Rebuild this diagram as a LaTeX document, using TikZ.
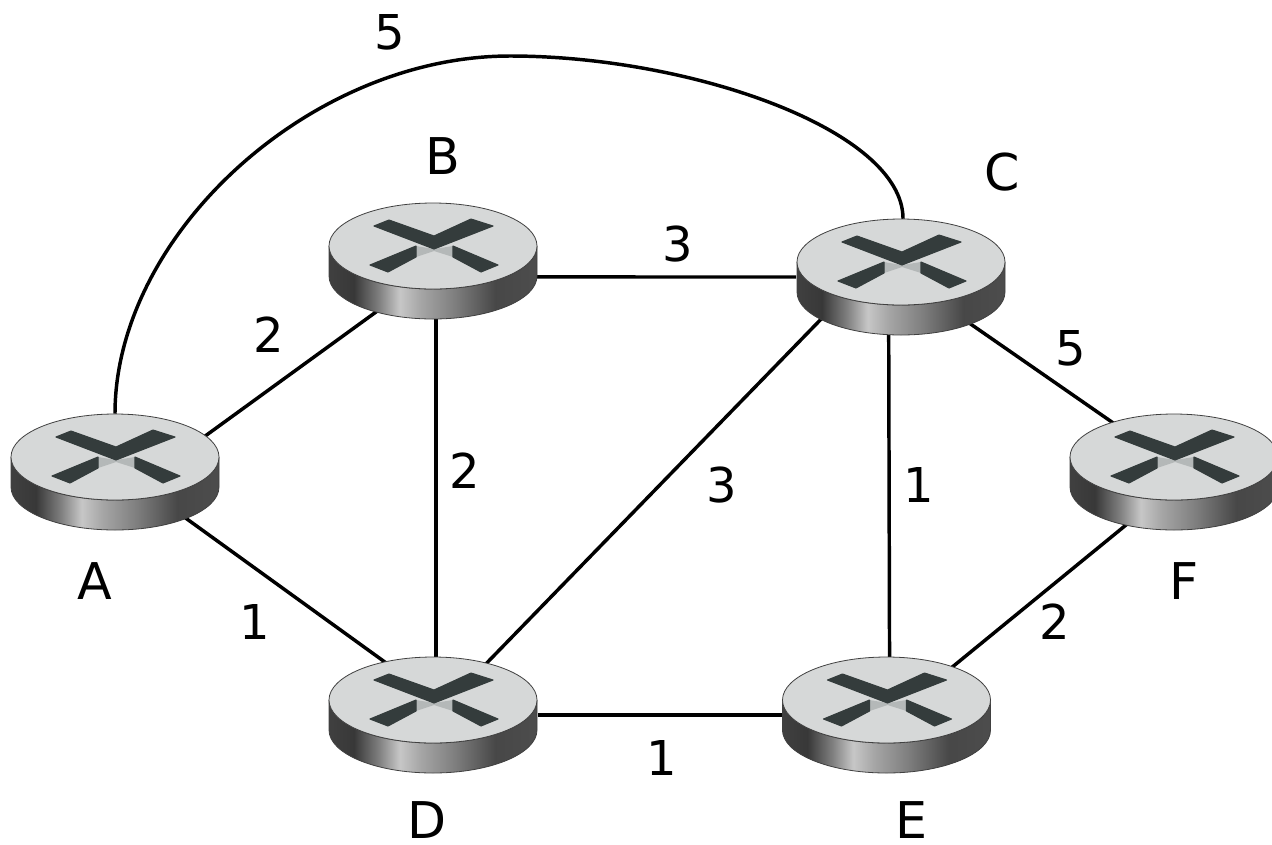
\documentclass[tikz,border=0pt]{standalone}
\usepackage{fontspec}
\setmainfont{DejaVu Sans}
\usetikzlibrary{shapes.geometric}

\definecolor{crossdark}{HTML}{343C3C}
\definecolor{crossmid}{HTML}{B4B8B8}
\definecolor{toplight}{HTML}{D6D8D8}
\pgfdeclarehorizontalshading{routerside}{100bp}{
	color(0bp)=(black!75); color(25bp)=(black!75); color(31bp)=(black!78); color(37bp)=(black!50);
	color(42bp)=(black!22); color(47bp)=(black!35); color(55bp)=(black!50); color(65bp)=(black!72);
	color(75bp)=(black!70); color(100bp)=(black!70)}

\begin{document}
\begin{tikzpicture}[
			x=0.75pt, y=-0.75pt,
			routernode/.style={ellipse, minimum width=156.75pt, minimum height=87pt, inner sep=0pt},
			textlabel/.style={font=\fontsize{38}{38}\selectfont, text=black, inner sep=0pt},
			weightlabel/.style={font=\fontsize{36}{36}\selectfont, text=black, inner sep=0pt},
			link/.style={line width=2.6pt, black},
			routericon/.pic={
				\path[shade, shading=routerside, draw=black!75, line width=0.6pt]
					(-104,-15) -- (-104,15) arc[start angle=180, end angle=360, x radius=104, y radius=-43]
					-- (104,-15) arc[start angle=0, end angle=180, x radius=104, y radius=43] -- cycle;
				\draw[fill=toplight, draw=black!75, line width=0.6pt] (0,-15) ellipse[x radius=104, y radius=43];
				\fill[crossmid] (-17,-15) -- (1,-12) -- (20,-15) -- (20,-4) -- (1,-10) -- (-17,-4) -- cycle;
				\filldraw[crossdark, line width=0.8pt, line join=round] (-59,-35) -- (-44,-41) -- (1,-25) -- (38,-42) -- (60,-35) -- (1,-12) -- cycle;
				\filldraw[crossdark, line width=0.8pt, line join=round] (-17,-15) -- (-63,4) -- (-45,11) -- (-17,-4) -- cycle;
				\filldraw[crossdark, line width=0.8pt, line join=round] (20,-15) -- (65,4) -- (48,11) -- (20,-4) -- cycle;
			},
		]
		\useasboundingbox (0,0) rectangle (1272,844);

			%Nodes
			\node[routernode] (A) at (115,472) {};
			\node[routernode] (B) at (433,261) {};
			\node[routernode] (C) at (901,277) {};
			\node[routernode] (D) at (433,715) {};
			\node[routernode] (E) at (886.5,715) {};
			\node[routernode] (F) at (1174,472) {};
			\coordinate (top) at (510,56);

			%Lines
			\draw[link] (A.21) -- (B.222);
			\draw[link] (A.-33) -- (D.132);
			\draw[link] (B.-87) -- (D.87);
			\draw[link] (B.-9) -- (C.west);
			\draw[link] (C.207.5) -- (D.44);
			\draw[link] (D.east) -- (E.west);
			\draw[link] (C.258) -- (E.87.5);
			\draw[link] (C.-34) -- (F.141.5);
			\draw[link] (E.36) -- (F.228);
			\draw[link] (A.north) .. controls (115,235) and (310,56) .. (top)
				.. controls (690,56) and (903,130) .. (C.88);

			%Routers
			\foreach \name in {A,B,C,D,E,F}
				\pic at (\name) {routericon};

			%Names
			\node[textlabel] (labelA) at (95,581) {A};
			\node[textlabel] (labelB) at (443,156) {B};
			\node[textlabel] (labelC) at (1002,172) {C};
			\node[textlabel] (labelD) at (427,820) {D};
			\node[textlabel] (labelE) at (911,820) {E};
			\node[textlabel] (labelF) at (1184,581) {F};

			%Weights
			\node[weightlabel] (wAC) at (390,32) {5};
			\node[weightlabel] (wAB) at (269,335) {2};
			\node[weightlabel] (wBD) at (465,471) {2};
			\node[weightlabel] (wBC) at (678,244) {3};
			\node[weightlabel] (wCD) at (722,485) {3};
			\node[weightlabel] (wCE) at (919,485) {1};
			\node[weightlabel] (wCF) at (1071,348) {5};
			\node[weightlabel] (wAD) at (255,622) {1};
			\node[weightlabel] (wEF) at (1055,622) {2};
			\node[weightlabel] (wDE) at (662,758) {1};

		\end{tikzpicture}
\end{document}
